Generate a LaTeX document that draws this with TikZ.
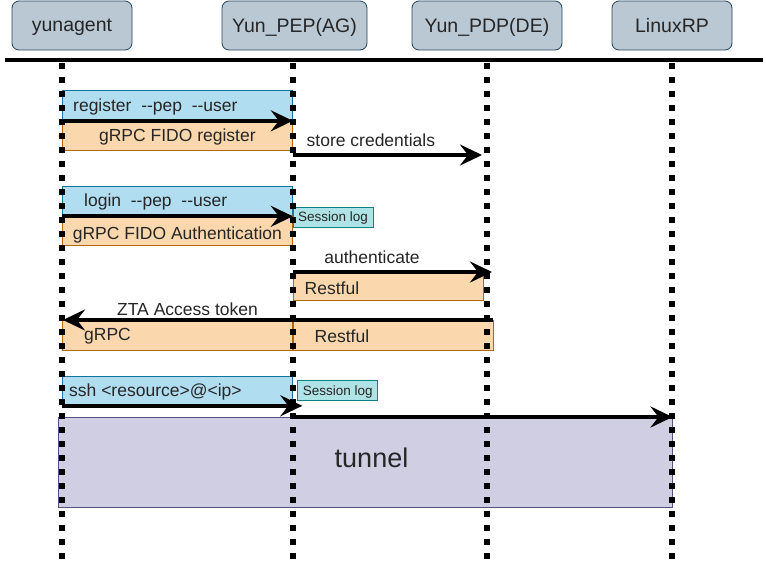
\documentclass[tikz,border=0pt]{standalone}
\usepackage{fontspec}
\setmainfont{Liberation Sans}
\usetikzlibrary{arrows.meta,positioning}

\definecolor{headfill}{HTML}{BAC8D3}
\definecolor{headline}{HTML}{23445D}
\definecolor{callfill}{HTML}{B1DDF0}
\definecolor{callline}{HTML}{10739E}
\definecolor{wirefill}{HTML}{FAD7AC}
\definecolor{wireline}{HTML}{B46504}
\definecolor{logfill}{HTML}{B0E3E6}
\definecolor{logline}{HTML}{0E8088}
\definecolor{tunfill}{HTML}{D0CEE2}
\definecolor{tunline}{HTML}{56517E}

\begin{document}
\begin{tikzpicture}[x=1pt, y=-1pt,
    every node/.style = {inner sep=0pt, text=black!85},
    head/.style = {shape=rectangle, rounded corners=7pt, draw=headline,
      fill=headfill, line width=0.8pt, minimum height=49pt, text depth=0pt,
      font=\fontsize{19.5}{23}\selectfont},
    box/.style = {shape=rectangle, anchor=north west, line width=0.8pt,
      text depth=0pt, font=\fontsize{17.5}{21}\selectfont},
    call/.style = {box, draw=callline, fill=callfill,
      minimum width=230pt, minimum height=30pt},
    wire/.style = {box, draw=wireline, fill=wirefill, minimum height=30pt},
    logbox/.style = {box, draw=logline, fill=logfill, minimum width=80pt,
      minimum height=20pt, font=\fontsize{13.5}{16}\selectfont},
    txt/.style = {font=\fontsize{17.5}{21}\selectfont},
    life/.style = {line width=6pt, dash pattern=on 6pt off 8pt},
    msg/.style = {line width=4pt,
      -{Stealth[length=22pt,width=21pt,inset=8pt]}}]
  \useasboundingbox (0,0) rectangle (766,565);

  % participants
  \node[head, minimum width=120pt] (ya)  at (72,25.5)   {yunagent};
  \node[head, minimum width=145pt] (pep) at (294.5,25.5) {Yun\_PEP(AG)};
  \node[head, minimum width=150pt] (pdp) at (487,25.5)  {Yun\_PDP(DE)};
  \node[head, minimum width=120pt] (rp)  at (672,25.5)  {LinuxRP};
  \coordinate (bar-l) at (5,60);
  \coordinate (bar-r) at (763,60);
  \draw[line width=4.5pt] (bar-l) -- (bar-r);
  \foreach \n/\x in {ya/62, pep/292.5, pdp/487, rp/671.5} {
    \coordinate (\n-top) at (\x,63);
    \coordinate (\n-bot) at (\x,566);
  }

  % boxes
  \node[call] (reg) at (62,90) {};
  \node[wire, minimum width=230pt] (regw) at (62,120) {gRPC FIDO register};
  \node[call] (login) at (62,185.5) {};
  \node[wire, minimum width=230pt, text height=19pt] (loginw) at (62,215)
    {gRPC FIDO Authentication};
  \node[wire, minimum width=190pt, minimum height=28pt] (rest1) at (292.5,272) {};
  \node[wire, minimum width=230pt] (grpc) at (62,320) {};
  \node[wire, minimum width=200pt] (rest2) at (292.5,320) {};
  \node[call, minimum height=29.3pt] (ssh) at (62,375.7) {};
  \node[box, draw=tunline, fill=tunfill, minimum width=614pt,
    minimum height=90pt] (tunnel) at (57.7,417) {};
  \node[logbox] (log1) at (292.7,206.7) {Session log};
  \node[logbox] (log2) at (297.3,380.3) {Session log};

  % texts
  \node[txt, anchor=west] (regtxt) at ([xshift=11pt,yshift=-1.5pt]reg.west)
    {register\ \ -{}-pep\ \ -{}-user};
  \node[txt, anchor=west] (logintxt) at ([xshift=22pt,yshift=-1pt]login.west)
    {login\ \ -{}-pep\ \ -{}-user};
  \node[txt, anchor=west] (rest1txt) at ([xshift=12pt,yshift=-1.5pt]rest1.west) {Restful};
  \node[txt, anchor=west] (grpctxt) at ([xshift=22pt,yshift=-1pt]grpc.west) {gRPC};
  \node[txt, anchor=west] (rest2txt) at ([xshift=22pt,yshift=-1pt]rest2.west) {Restful};
  \node[txt, anchor=west] (sshtxt) at ([xshift=7pt,yshift=-1.5pt]ssh.west)
    {ssh <resource>@<ip>};
  \node[font=\fontsize{27}{32}\selectfont] (tuntxt) at (371.5,458) {tunnel};

  % lifelines
  \foreach \n in {ya, pep, pdp, rp}
    \draw[life] (\n-top) -- (\n-bot);

  % messages
  \coordinate (store-a) at (292.5,155);
  \coordinate (store-b) at (482,155);
  \coordinate (auth-b) at (492,272);
  \draw[msg] (reg.south west) -- (reg.south east);
  \draw[msg] (store-a) -- (store-b);
  \node[txt, above right=8pt and 14pt of store-a] (storetxt) {store credentials};
  \draw[msg] (login.south west) -- (login.south east);
  \draw[msg] (rest1.north west) -- (auth-b);
  \node[txt] (authtxt) at (372,257) {authenticate};
  \draw[msg] (rest2.north east) -- ([xshift=1pt]grpc.north west);
  \node[txt] (ztatxt) at (187.5,309.5) {ZTA Access token};
  \draw[msg] (ssh.south west) -- ([xshift=9.5pt]ssh.south east);
  \draw[msg] (tunnel.north -| pep-top) -- (tunnel.north east);
\end{tikzpicture}
\end{document}
